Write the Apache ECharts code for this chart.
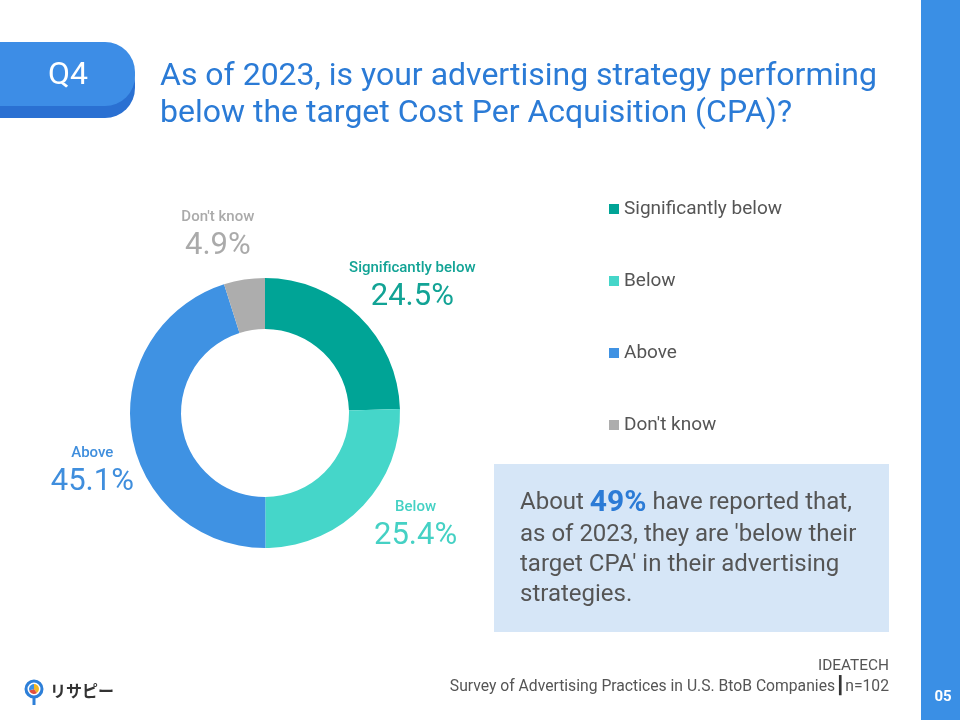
<!DOCTYPE html>
<html>
<head>
<meta charset="utf-8">
<script src="https://cdn.jsdelivr.net/npm/echarts@6/dist/echarts.min.js"></script>
<style>
  html, body { margin: 0; padding: 0; background: #fff; }
  #root { width: 960px; height: 720px; }
</style>
</head>
<body>
<div id="root"></div>
<script>
var categories = ['Significantly below', 'Below', 'Above', "Don't know"];
var shares = [24.5, 25.4, 45.1, 4.9];
var sliceColors = ['#00A496', '#45D6C9', '#3F92E3', '#ADADAD'];
var labelColors = ['#12A395', '#45D1C4', '#3F8EDD', '#AAAAAA'];

var FONT = 'Roboto, "Noto Sans", sans-serif';
var BLUE = '#2B7BD6';

// nudges for the outer labels (the reference does not place them strictly radially)
var labelNudge = [[15, 10], [14, -20], [15, 29], [-18, 10]];

var chart = echarts.init(document.getElementById('root'));

var sliceData = categories.map(function (name, i) {
    return { name: name, value: shares[i], itemStyle: { color: sliceColors[i] } };
});
var labelData = categories.map(function (name, i) {
    return {
        name: name,
        value: shares[i],
        label: {
            rich: {
                n: { color: labelColors[i], fontSize: 15, fontWeight: 500, fontFamily: FONT, lineHeight: 22 },
                v: { color: labelColors[i], fontSize: 31, fontFamily: FONT, lineHeight: 36 }
            }
        }
    };
});

var option = {
    backgroundColor: '#ffffff',
    animation: false,
    textStyle: { fontFamily: FONT },
    legend: {
        orient: 'vertical',
        left: 604,
        top: 194,
        data: categories,
        icon: 'rect',
        itemWidth: 10,
        itemHeight: 10,
        itemGap: 52,
        selectedMode: false,
        textStyle: { color: '#555555', fontSize: 19, fontFamily: FONT, lineHeight: 20 }
    },
    series: [
        {
            type: 'pie',
            center: [265, 413],
            radius: [84, 135],
            startAngle: 90,
            clockwise: true,
            silent: true,
            label: { show: false },
            labelLine: { show: false },
            data: sliceData
        },
        {
            type: 'pie',
            center: [265, 413],
            radius: [166, 208],
            startAngle: 90,
            clockwise: true,
            silent: true,
            itemStyle: { color: 'rgba(0,0,0,0)' },
            label: {
                show: true,
                position: 'inside',
                formatter: '{n|{b}}\n{v|{c}%}',
                align: 'center'
            },
            labelLine: { show: false },
            labelLayout: function (params) {
                var d = labelNudge[params.dataIndex];
                return { dx: d[0], dy: d[1] };
            },
            data: labelData
        }
    ],
    graphic: [
        // right side bar
        { type: 'rect', shape: { x: 921, y: 0, width: 39, height: 720 }, style: { fill: '#3A8FE5' }, silent: true },
        { type: 'text', x: 943, y: 697, style: { text: '05', fill: '#ffffff', font: 'bold 15px ' + FONT, align: 'center', verticalAlign: 'middle' } },
        // Q4 badge
        { type: 'rect', shape: { x: -40, y: 53, width: 175, height: 65, r: 30 }, style: { fill: '#2A70D2' } },
        { type: 'rect', shape: { x: -40, y: 42, width: 175, height: 64, r: 30 }, style: { fill: '#3D8DE6' } },
        { type: 'text', x: 68, y: 76, style: { text: 'Q4', fill: '#ffffff', font: '32px ' + FONT, align: 'center', verticalAlign: 'middle' } },
        // title
        { type: 'text', x: 160, y: 58, style: { text: 'As of 2023, is your advertising strategy performing\nbelow the target Cost Per Acquisition (CPA)?', fill: BLUE, font: '32px ' + FONT, lineHeight: 37 } },
        // summary box
        { type: 'rect', shape: { x: 494, y: 464, width: 395, height: 168 }, style: { fill: '#D6E6F7' } },
        {
            type: 'text', x: 520, y: 486,
            style: {
                text: '{h0|}{t|About }{h|49%}{t| have reported that,}\n{t|as of 2023, they are \'below their}\n{t|target CPA\' in their advertising}\n{t|strategies.}',
                rich: {
                    h0: { lineHeight: 34 },
                    t: { fill: '#555555', fontSize: 24, fontFamily: FONT, lineHeight: 30 },
                    h: { fill: BLUE, fontSize: 30, fontWeight: 'bold', fontFamily: FONT, lineHeight: 34 }
                }
            }
        },
        // footer source
        { type: 'text', x: 889, y: 666, style: { text: 'IDEATECH', fill: '#555555', font: '15.4px ' + FONT, align: 'right', verticalAlign: 'middle' } },
        {
            type: 'text', x: 889, y: 687,
            style: {
                text: '{a|Survey of Advertising Practices in U.S. BtoB Companies}{b|\u2503}{a|n=102}',
                align: 'right', verticalAlign: 'middle',
                rich: {
                    a: { fill: '#555555', fontSize: 15.7, fontFamily: FONT },
                    b: { fill: '#333333', fontSize: 17, fontFamily: '"DejaVu Sans", sans-serif', padding: [0, 0, 0, 0] }
                }
            }
        },
        // logo
        { type: 'circle', shape: { cx: 34, cy: 689, r: 8 }, style: { fill: '#ffffff', stroke: '#2D7FD8', lineWidth: 3 } },
        { type: 'line', shape: { x1: 34, y1: 698, x2: 34, y2: 705 }, style: { stroke: '#2D7FD8', lineWidth: 3 } },
        { type: 'sector', shape: { cx: 34, cy: 689, r: 5, startAngle: -Math.PI / 2, endAngle: Math.PI * 0.3 }, style: { fill: '#F2B824' } },
        { type: 'sector', shape: { cx: 34, cy: 689, r: 5, startAngle: Math.PI * 0.3, endAngle: Math.PI * 0.9 }, style: { fill: '#E2503F' } },
        { type: 'sector', shape: { cx: 34, cy: 689, r: 5, startAngle: Math.PI * 0.9, endAngle: Math.PI * 1.5 }, style: { fill: '#3A8FE5' } },
        { type: 'text', x: 50, y: 691, style: { text: 'リサピー', fill: '#333333', font: 'bold 16px "Noto Sans CJK JP"', verticalAlign: 'middle' } }
    ]
};
chart.setOption(option);
</script>
</body>
</html>
